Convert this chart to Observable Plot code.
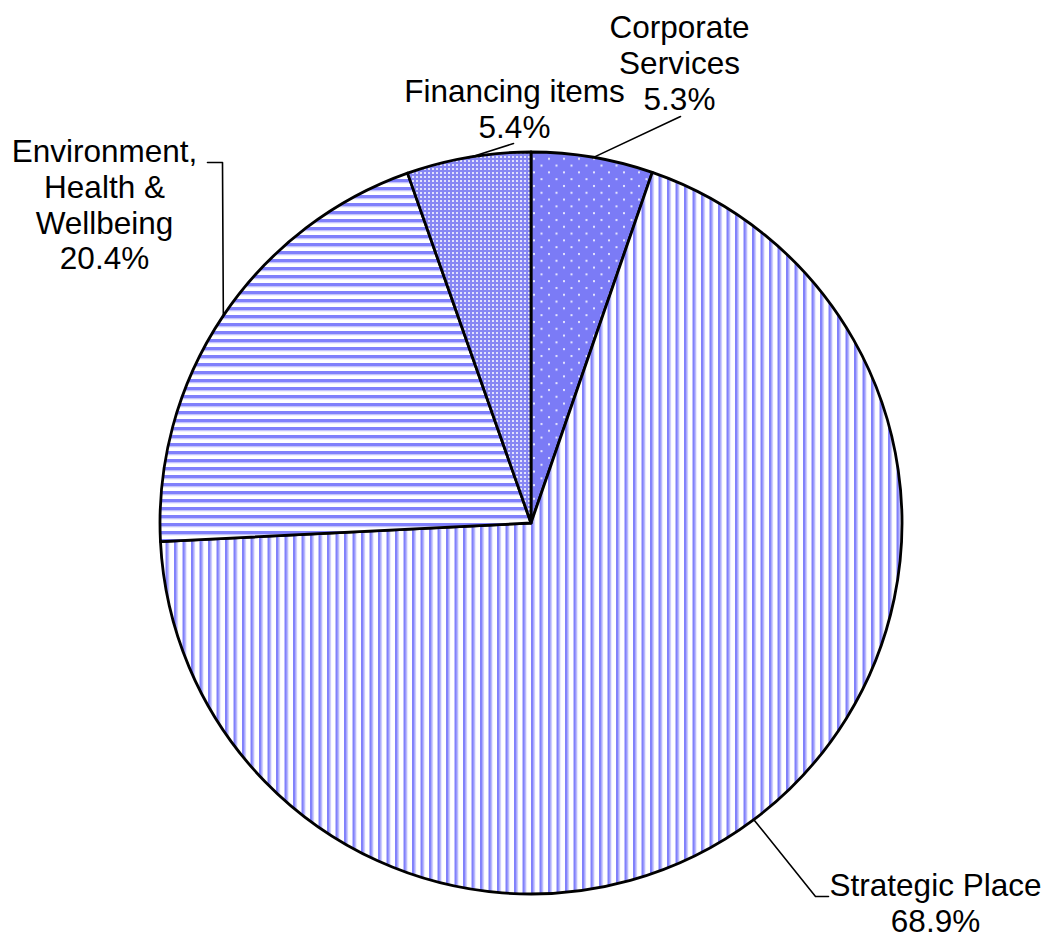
<!DOCTYPE html>
<html>
<head>
<meta charset="utf-8">
<script src="https://cdn.jsdelivr.net/npm/d3@7"></script>
<script src="https://cdn.jsdelivr.net/npm/@observablehq/plot@0.6"></script>
<style>
  html, body { margin: 0; padding: 0; background: #fff; }
  #chart svg { display: block; }
</style>
</head>
<body>
<div id="chart"></div>
<script>
// ---- data ----
const categories = ["Corporate Services", "Strategic Place", "Environment, Health & Wellbeing", "Financing items"];
const shares = [5.3, 68.9, 20.4, 5.4];
const labelLines = [["Corporate", "Services"], ["Strategic Place"], ["Environment,", "Health &", "Wellbeing"], ["Financing items"]];
const patternNames = ["dots", "vstripes", "hstripes", "grid"];

// ---- layout (page pixels) ----
const W = 1047, H = 940;
const CX = 531, CY = 523, R = 371;
const FONT = 31.5;
// label anchor: centre x, first-line baseline
const labelAnchors = [
  {x: 679, base: 35},
  {x: 935, base: 893},
  {x: 104, base: 159},
  {x: 514, base: 99}
];
// leader elbows / ends (after the rim point)
const leaderTails = [
  [[680, 116]],
  [[815, 896], [828, 896]],
  [[222, 162], [207, 162]],
  [[513, 143]]
];

const toX = px => px - CX;
const toY = py => CY - py;

const rows = categories.map((c, i) => ({category: c, share: shares[i], lines: labelLines[i], pattern: patternNames[i], i}));
const arcs = d3.pie().sort(null).value(d => d.share)(rows);

// leaders: start at rim at slice mid-angle
const leaderRows = [];
arcs.forEach((a, i) => {
  const m = (a.startAngle + a.endAngle) / 2;
  leaderRows.push({k: i, x: R * Math.sin(m), y: R * Math.cos(m)});
  leaderTails[i].forEach(([px, py]) => leaderRows.push({k: i, x: toX(px), y: toY(py)}));
});

const textRows = rows.map((d, i) => ({
  x: toX(labelAnchors[i].x),
  y: toY(labelAnchors[i].base - 0.71 * FONT),
  text: [...d.lines, d3.format(".1f")(d.share) + "%"].join("\n")
}));

const defsMark = () => {
  const s = d3.create("svg:defs");
  s.html(`
    <pattern id="pat-dots" patternUnits="userSpaceOnUse" width="15" height="13.6">
      <rect width="15" height="13.6" fill="#7b7bf6"/>
      <rect x="2" y="2" width="2" height="2" fill="#ffffff" opacity="0.8"/>
      <rect x="9.5" y="8.8" width="2" height="2" fill="#ffffff" opacity="0.8"/>
    </pattern>
    <pattern id="pat-grid" patternUnits="userSpaceOnUse" width="4" height="4">
      <rect width="4" height="4" fill="#8686f3"/>
      <rect x="1" y="1" width="2" height="2" fill="#ffffff" opacity="0.75"/>
    </pattern>
    <pattern id="pat-hstripes" patternUnits="userSpaceOnUse" width="10" height="8">
      <rect width="10" height="8" fill="#ffffff"/>
      <rect y="0" width="10" height="3" fill="#8080fb"/>
      <rect y="3" width="10" height="1.3" fill="#c4c4fd"/>
    </pattern>
    <pattern id="pat-vstripes" patternUnits="userSpaceOnUse" width="8.5" height="10">
      <rect width="8.5" height="10" fill="#ffffff"/>
      <rect x="0" width="2.6" height="10" fill="#8080fb"/>
      <rect x="2.6" width="1.3" height="10" fill="#c4c4fd"/>
    </pattern>`);
  return s.node();
};

function pieMark(index, scales) {
  const {x, y} = scales;
  const cx = x(0), cy = y(0), r = x(R) - x(0);
  const arc = d3.arc().innerRadius(0).outerRadius(r);
  const g = d3.create("svg:g").attr("transform", `translate(${cx},${cy})`);
  g.selectAll("path").data(arcs).join("path")
    .attr("d", arc)
    .attr("fill", d => `url(#pat-${d.data.pattern})`)
    .attr("stroke", "#000")
    .attr("stroke-width", 2.8)
    .attr("stroke-linejoin", "round");
  return g.node();
}

const chart = Plot.plot({
  width: W,
  height: H,
  margin: 0,
  style: {background: "#fff", overflow: "visible"},
  x: {domain: [toX(0), toX(W)], axis: null},
  y: {domain: [toY(H), toY(0)], axis: null},
  marks: [
    defsMark,
    pieMark,
    Plot.line(leaderRows, {x: "x", y: "y", z: "k", stroke: "#000", strokeWidth: 1.6, curve: "linear"}),
    Plot.text(textRows, {
      x: "x", y: "y", text: "text",
      textAnchor: "middle", lineAnchor: "top", lineHeight: 1.13,
      fontSize: FONT, fontFamily: "Liberation Sans, Arial, sans-serif", fill: "#000"
    })
  ]
});
document.getElementById("chart").append(chart);
</script>
</body>
</html>
